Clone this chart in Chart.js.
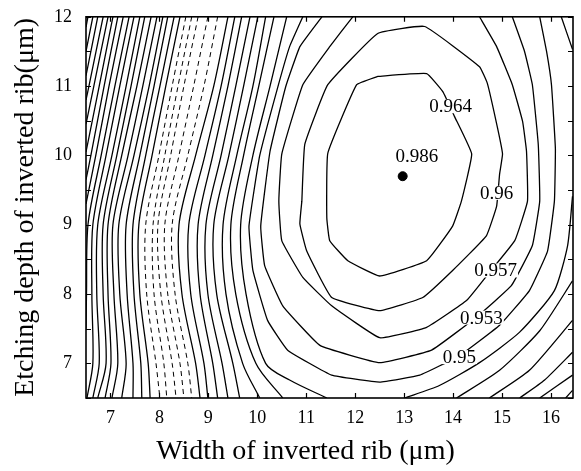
<!DOCTYPE html>
<html>
<head>
<meta charset="utf-8">
<script src="https://cdn.jsdelivr.net/npm/chart.js@4.4.1/dist/chart.umd.min.js"></script>
<style>
html,body{margin:0;padding:0;background:#fff;}
#wrap{width:581px;height:471px;}
</style>
</head>
<body>
<div id="wrap"><canvas id="c" width="581" height="471"></canvas></div>
<script>
// ---- axis ticks ----
const xTicks = [7, 8, 9, 10, 11, 12, 13, 14, 15, 16];
const yTicks = [7, 8, 9, 10, 11, 12];
const yMinorTicks = [6.5, 7, 7.5, 8, 8.5, 9, 9.5, 10, 10.5, 11, 11.5, 12];

// ---- labelled contour levels (x = width, y = depth) ----
const levelLabels = ['0.964', '0.96', '0.957', '0.953', '0.95'];
const labelPos = [[13.95, 10.71], [14.89, 9.46], [14.87, 8.34], [14.58, 7.66], [14.13, 7.09]];
const peakValue = '0.986';
const peakPoint = [12.97, 9.70];
const peakLabelPos = [13.26, 9.99];

const c964 = [[12.46,11.14],[13.46,11.18],[13.79,10.92],[14.03,10.56],[14.38,10.02],[14.17,9.34],[13.99,8.98],[13.46,8.48],[12.50,8.26],[11.85,8.48],[11.48,8.77],[11.42,9.10],[11.44,10.03],[12.03,11.02],[12.46,11.14]];
const c960 = [[10.91,9.34],[10.97,10.16],[11.44,11.02],[12.46,11.76],[13.42,11.86],[14.54,11.28],[14.70,11.04],[14.91,10.39],[15.01,10.02],[14.95,9.73],[14.89,9.27],[14.68,8.84],[13.99,8.34],[13.38,7.95],[12.50,7.76],[11.52,7.95],[11.01,8.62],[10.87,9.01],[10.91,9.34]];
const c957 = [[11.95,12],[11.48,11.57],[10.93,11.02],[10.50,10.02],[10.44,9.34],[10.50,8.77],[10.93,8.24],[11.52,7.83],[12.50,7.37],[13.46,7.52],[14.28,7.91],[14.74,8.31],[15.26,8.77],[15.52,9.34],[15.50,10.06],[15.42,10.49],[15.21,11.02],[14.89,11.57],[14.54,12]];
const c953 = [[11.32,12],[10.87,11.57],[10.58,10.99],[10.26,10.06],[10.07,8.98],[10.15,8.41],[10.52,7.83],[11.28,7.26],[12.50,7.01],[13.56,7.19],[14.50,7.68],[15.19,8.12],[15.62,8.70],[15.77,9.34],[15.74,10.16],[15.62,11.02],[15.46,11.50],[15.21,12]];
const c950 = [[10.93,12],[10.66,11.57],[10.42,10.99],[10.05,10.0],[9.83,8.98],[9.91,8.34],[10.21,7.62],[10.62,7.19],[11.52,6.83],[12.50,6.73],[13.32,6.83],[14.13,7.11],[14.95,7.55],[15.56,8.05],[15.93,8.62],[16.07,9.34],[16.09,10.10],[16.01,11.02],[15.91,11.50],[15.77,12]];

// ---- unlabelled outer contours (right-side pieces) ----
const outerRight = [
  [[16.21,12],[16.44,11.53]],
  [[16.44,9.41],[16.34,8.70],[16.07,8.05],[15.36,7.45],[14.54,7.01],[13.72,6.68],[13.01,6.5]],
  [[16.44,8.19],[15.77,7.47],[14.95,6.90],[14.07,6.5]],
  [[16.44,7.62],[15.56,6.90],[14.74,6.5]],
  [[16.44,7.16],[15.87,6.76],[15.36,6.5]],
  [[16.44,6.83],[15.77,6.5]],
  [[16.44,6.61],[16.30,6.5]]
];

// ---- unlabelled outer contours (left side, solid) ----
const outerLeft = [
  [[10.60,12],[10.26,11],[9.91,10],[9.66,9],[9.77,8],[10.17,7],[10.66,6.76],[11.42,6.5]],
  [[10.34,12],[10.03,11],[9.72,10],[9.46,9],[9.56,8],[9.97,7],[10.52,6.5]],
  [[10.17,12],[9.91,11],[9.58,10],[9.30,9],[9.36,8],[9.70,7],[10.05,6.5]],
  [[10.01,12],[9.72,11],[9.42,10],[9.11,9],[9.17,8],[9.50,7],[9.64,6.5]],
  [[9.85,12],[9.56,11],[9.26,10],[8.95,9],[8.99,8],[9.28,7],[9.40,6.5]],
  [[9.68,12],[9.40,11],[9.09,10],[8.79,9],[8.83,8],[9.09,7],[9.19,6.5]],
  [[9.54,12],[9.26,11],[8.93,10],[8.60,9],[8.64,8],[8.91,7],[8.99,6.5]],
  [[9.40,12],[9.11,11],[8.74,10],[8.40,9],[8.46,8],[8.74,7],[8.83,6.5]],
  [[8.42,12],[8.13,11],[7.85,10],[7.58,9],[7.60,8],[7.77,7],[7.81,6.5]],
  [[8.30,12],[8.01,11],[7.72,10],[7.46,9],[7.48,8],[7.62,7],[7.64,6.5]],
  [[8.17,12],[7.89,11],[7.60,10],[7.32,9],[7.34,8],[7.46,7],[7.46,6.5]],
  [[8.07,12],[7.79,11],[7.48,10],[7.17,9],[7.19,8],[7.32,7],[7.23,6.5]],
  [[7.95,12],[7.66,11],[7.36,10],[7.05,9],[7.07,8],[7.15,7],[7.03,6.5]],
  [[7.83,12],[7.54,11],[7.23,10],[6.95,9],[6.95,8],[7.01,7],[6.89,6.5]],
  [[7.70,12],[7.42,11],[7.13,10],[6.85,9],[6.85,8],[6.91,7],[6.74,6.5]],
  [[7.60,12],[7.32,11],[7.03,10],[6.74,9],[6.72,8],[6.77,7],[6.64,6.5]],
  [[7.48,12],[7.19,11],[6.91,10],[6.64,9],[6.62,8],[6.64,7],[6.52,6.5]],
  [[7.38,12],[7.09,11],[6.81,10],[6.54,9],[6.51,8],[6.5,7.5]],
  [[7.26,12],[6.97,11],[6.70,10],[6.5,9.3]],
  [[7.15,12],[6.87,11],[6.60,10],[6.5,9.65]],
  [[7.05,12],[6.77,11],[6.5,10.05]],
  [[6.95,12],[6.66,11],[6.5,10.45]],
  [[6.85,12],[6.56,11],[6.5,10.8]],
  [[6.74,12],[6.5,11.15]],
  [[6.64,12],[6.5,11.5]],
  [[6.54,12],[6.5,11.85]]
];

// ---- faint (broken) contours in the middle band ----
const outerFaint = [
  [[9.19,12],[8.91,11],[8.58,10],[8.26,9],[8.32,8],[8.58,7],[8.66,6.5]],
  [[8.99,12],[8.70,11],[8.40,10],[8.11,9],[8.17,8],[8.42,7],[8.50,6.5]],
  [[8.79,12],[8.50,11],[8.23,10],[7.97,9],[8.03,8],[8.26,7],[8.34,6.5]],
  [[8.66,12],[8.38,11],[8.11,10],[7.87,9],[7.89,8],[8.09,7],[8.15,6.5]],
  [[8.54,12],[8.26,11],[7.99,10],[7.72,9],[7.74,8],[7.93,7],[8.01,6.5]]
];

const SERIF = '"Liberation Serif", "Times New Roman", serif';
const toPts = arr => arr.map(p => ({x: p[0], y: p[1]}));
const lineDs = (arr, opts) => Object.assign({
  data: toPts(arr), showLine: true, pointRadius: 0, borderColor: '#000',
  borderWidth: 1.3, tension: 0, fill: false
}, opts || {});

const datasets = [];
[c964, c960, c957, c953, c950].forEach(a => datasets.push(lineDs(a, {tension: 0.1})));
outerRight.forEach(a => datasets.push(lineDs(a, {tension: 0.2})));
outerLeft.forEach(a => datasets.push(lineDs(a, {tension: 0.3})));
outerFaint.forEach(a => datasets.push(lineDs(a, {tension: 0.3, borderWidth: 1, borderDash: [5, 4]})));
datasets.push({data: [{x: peakPoint[0], y: peakPoint[1]}], pointRadius: 4.5, pointBackgroundColor: '#000', pointBorderColor: '#000', showLine: false});

const decor = {
  id: 'decor',
  afterDatasetsDraw(chart) {
    const {ctx, chartArea: a, scales: {x, y}} = chart;
    ctx.save();
    ctx.font = '19px ' + SERIF;
    ctx.textAlign = 'center';
    ctx.textBaseline = 'middle';
    levelLabels.forEach((t, i) => {
      const px = x.getPixelForValue(labelPos[i][0]);
      const py = y.getPixelForValue(labelPos[i][1]);
      const w = ctx.measureText(t).width;
      ctx.fillStyle = '#fff';
      ctx.fillRect(px - w / 2 - 1, py - 7, w + 2, 14);
      ctx.fillStyle = '#000';
      ctx.fillText(t, px, py + 1);
    });
    ctx.fillStyle = '#000';
    ctx.fillText(peakValue, x.getPixelForValue(peakLabelPos[0]), y.getPixelForValue(peakLabelPos[1]) + 1);

    // frame
    ctx.strokeStyle = '#000';
    ctx.lineWidth = 1.6;
    ctx.strokeRect(a.left, a.top, a.right - a.left, a.bottom - a.top);
    // inward ticks
    ctx.lineWidth = 1.2;
    ctx.beginPath();
    xTicks.forEach(v => {
      const px = Math.round(x.getPixelForValue(v)) + 0.5;
      ctx.moveTo(px, a.bottom); ctx.lineTo(px, a.bottom - 5);
      ctx.moveTo(px, a.top); ctx.lineTo(px, a.top + 5);
    });
    yMinorTicks.forEach(v => {
      const py = Math.round(y.getPixelForValue(v)) + 0.5;
      ctx.moveTo(a.left, py); ctx.lineTo(a.left + 5, py);
      ctx.moveTo(a.right, py); ctx.lineTo(a.right - 5, py);
    });
    ctx.stroke();

    // axis titles
    ctx.font = '28px ' + SERIF;
    ctx.fillStyle = '#000';
    ctx.textAlign = 'center';
    ctx.textBaseline = 'middle';
    ctx.fillText('Width of inverted rib (\u03bcm)', (a.left + a.right) / 2 - 24, 452);
    ctx.save();
    ctx.translate(26, (a.top + a.bottom) / 2);
    ctx.rotate(-Math.PI / 2);
    ctx.fillText('Etching depth of inverted rib(\u03bcm)', 0, 0);
    ctx.restore();
    ctx.restore();
  }
};

new Chart(document.getElementById('c'), {
  type: 'scatter',
  data: {datasets},
  options: {
    responsive: false,
    animation: false,
    devicePixelRatio: 1,
    layout: {padding: {top: 4, right: 8, left: 0, bottom: 0}},
    plugins: {legend: {display: false}, tooltip: {enabled: false}},
    scales: {
      x: {
        type: 'linear', min: 6.5, max: 16.45,
        afterBuildTicks: s => { s.ticks = xTicks.map(v => ({value: v})); },
        afterFit: s => { s.height = 73; },
        grid: {display: false},
        border: {display: false},
        ticks: {font: {family: SERIF, size: 18}, color: '#000', padding: 1, maxRotation: 0}
      },
      y: {
        type: 'linear', min: 6.5, max: 12,
        afterBuildTicks: s => { s.ticks = yTicks.map(v => ({value: v})); },
        afterFit: s => { s.width = 86; },
        grid: {display: false},
        border: {display: false},
        ticks: {font: {family: SERIF, size: 18}, color: '#000', padding: 6}
      }
    }
  },
  plugins: [decor]
});
</script>
</body>
</html>
